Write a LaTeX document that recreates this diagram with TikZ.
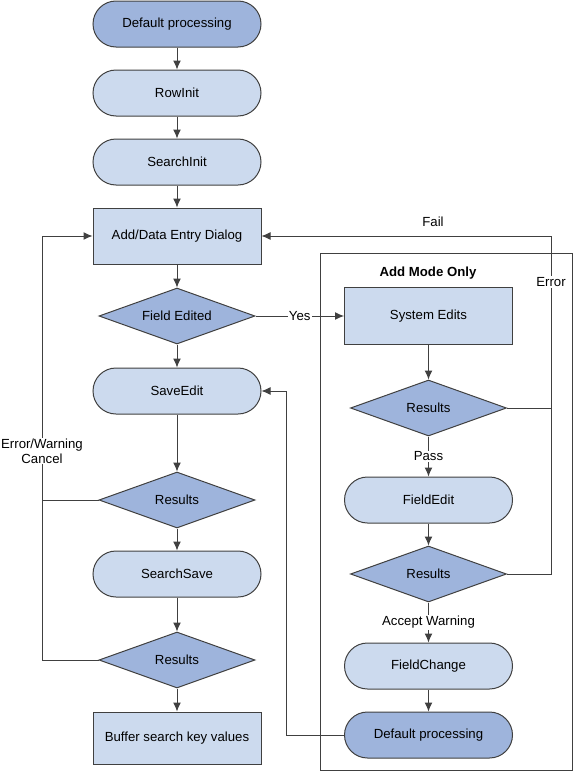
\documentclass[tikz,border=0pt]{standalone}
\usepackage{fontspec}
\setmainfont{Liberation Sans}
\usetikzlibrary{shapes.geometric,arrows.meta}
\definecolor{darkfill}{HTML}{9EB4DC}
\definecolor{lightfill}{HTML}{CCDAEE}
\definecolor{edgegray}{HTML}{404040}
\tikzset{
  every node/.style={font=\fontsize{13.2}{15}\selectfont},
  pill/.style={draw=edgegray, line width=1pt, fill=lightfill, rounded corners=23pt, minimum width=168pt, minimum height=46pt},
  darkpill/.style={pill, fill=darkfill},
  procbox/.style={draw=edgegray, line width=1pt, fill=lightfill, minimum width=168pt, minimum height=56pt},
  decision/.style={diamond, draw=edgegray, line width=1pt, fill=darkfill, aspect=2.8, inner sep=0pt, minimum width=156pt, minimum height=56pt},
  link/.style={draw=edgegray, line width=1pt},
  flow/.style={link, -{Latex[length=9pt,width=8pt]}},
  lbl/.style={fill=white, inner sep=1pt}
}
\begin{document}
\begin{tikzpicture}[x=1pt,y=-1pt]
\useasboundingbox (0,0) rectangle (574,771);
% add mode frame
\draw [link](320,253) rectangle (572.5,770);
\node [font=\fontsize{13.2}{15}\selectfont\bfseries] (addmode) at (428,273) {Add Mode Only};
% left column
\node [darkpill] (dpstart) at (177,24) {Default processing};
\node [pill] (rowinit) at (177,93) {RowInit};
\node [pill] (searchinit) at (177,162) {SearchInit};
\node [procbox] (dialog) at (177,236) {Add/Data Entry Dialog};
\node [decision] (edited) at (177,316) {Field Edited};
\node [pill] (saveedit) at (177,391) {SaveEdit};
\node [decision] (saveres) at (177,500) {Results};
\node [pill] (searchsave) at (177,574) {SearchSave};
\node [decision] (searchres) at (177,660) {Results};
\node [procbox, minimum height=52pt] (buffer) at (177,738) {Buffer search key values};
% right column
\node [procbox, minimum height=57pt] (sysedits) at (428.5,316) {System Edits};
\node [decision] (sysres) at (428.5,408) {Results};
\node [pill] (fieldedit) at (428.5,500) {FieldEdit};
\node [decision] (fieldres) at (428.5,574) {Results};
\node [pill] (fieldchange) at (428.5,666) {FieldChange};
\node [darkpill] (dpend) at (428.5,735) {Default processing};
% loop columns
\coordinate (lloop) at (42,0);
\coordinate (bloop) at (286,0);
\coordinate (rloop) at (551,0);
% main flow
\draw [flow](dpstart) -- (rowinit);
\draw [flow](rowinit) -- (searchinit);
\draw [flow](searchinit) -- (dialog);
\draw [flow](dialog) -- (edited);
\draw [flow](edited) -- (saveedit);
\draw [flow](saveedit) -- (saveres);
\draw [flow](saveres) -- (searchsave);
\draw [flow](searchsave) -- (searchres);
\draw [flow](searchres) -- (buffer);
\draw [flow](edited) -- node[lbl] (yes) {Yes} (sysedits);
\draw [flow](sysedits) -- (sysres);
\draw [flow](sysres) -- node[lbl] (pass) {Pass} (fieldedit);
\draw [flow](fieldedit) -- (fieldres);
\draw [flow](fieldres) -- node[lbl] (accept) {Accept Warning} (fieldchange);
\draw [flow](fieldchange) -- (dpend);
% loops back
\draw [flow](searchres.west) -- (searchres.west -| lloop) -- (dialog.west -| lloop) -- (dialog.west);
\draw [link](saveres.west) -- (saveres.west -| lloop);
\node [lbl, align=center] (errwarn) at (42,451) {Error/Warning\\Cancel};
\draw [flow](fieldres.east) -- (fieldres.east -| rloop) -- (dialog.east -| rloop) -- (dialog.east);
\draw [link](sysres.east) -- (sysres.east -| rloop);
\node [lbl] (err) at (551,282) {Error};
\node (fail) at (433,222) {Fail};
\draw [flow](dpend.west) -- (dpend.west -| bloop) -- (saveedit.east -| bloop) -- (saveedit.east);
\end{tikzpicture}
\end{document}
